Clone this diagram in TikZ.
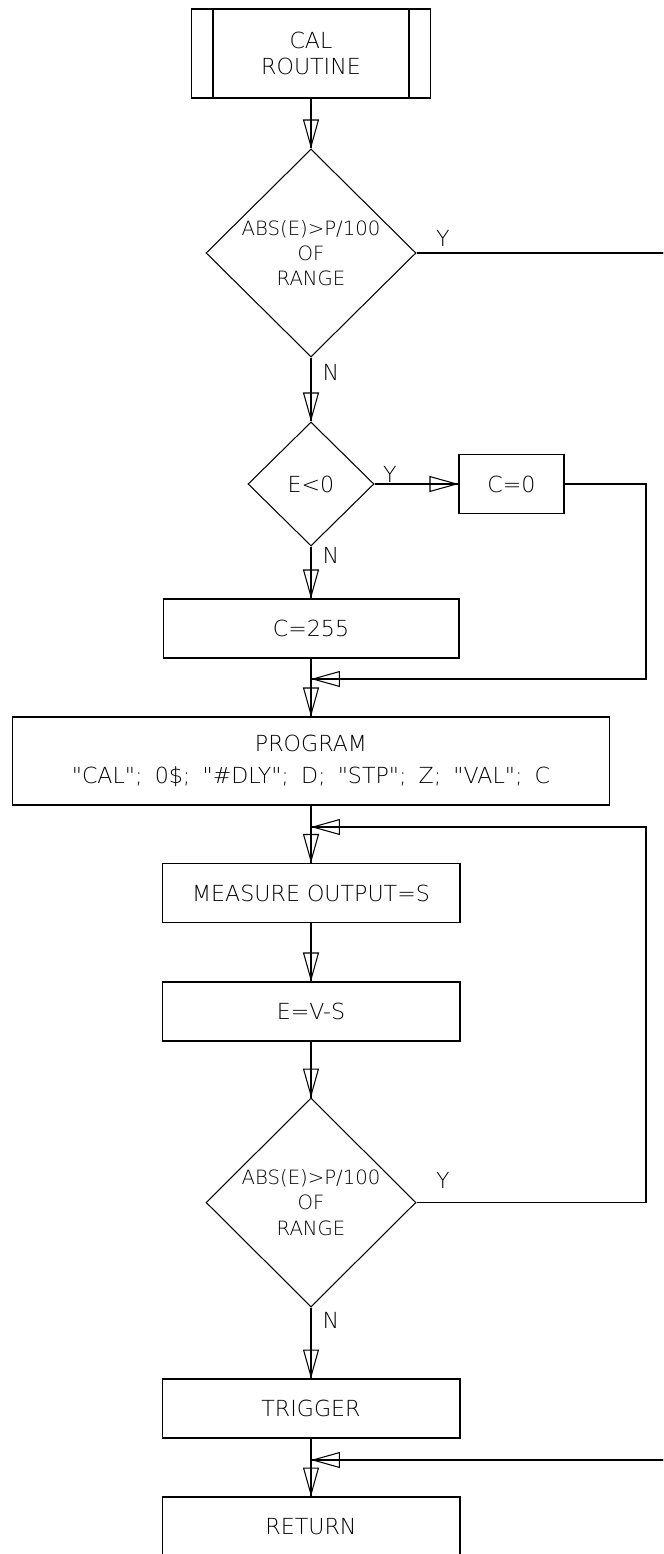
\documentclass[tikz,border=0pt]{standalone}
\usepackage{fontspec}
\newfontfamily\cadfont{DejaVu Sans}[UprightFont={* ExtraLight}]
\usepackage{tikz}
\usetikzlibrary{arrows.meta,shapes.geometric,calc}

\tikzset{
  flowbox/.style={draw, rectangle, inner sep=0pt, minimum width=5.96cm, minimum height=1.18cm},
  testbox/.style={draw, diamond, inner sep=-3pt, align=center, font=\cadfont\fontsize{11.2}{14.4}\selectfont},
  flowarrow/.style={-{Triangle[open, length=0.58cm, width=0.32cm]}, postaction={draw, -}},
  tag/.style={inner sep=0pt}
}

\begin{document}
\begin{tikzpicture}[x=0.02cm, y=-0.02cm, line width=0.6pt,
    font=\cadfont\fontsize{12.6}{14.4}\selectfont]
    \useasboundingbox (0,0) rectangle (663,1554);
    \clip (0,0) rectangle (663,1554);

    % Entry box
    \node[draw, rectangle, inner sep=0pt, minimum width=4.78cm, minimum height=1.78cm, align=center]
        (cal) at (311,53.5) {CAL\\ROUTINE};
    \draw ($(cal.north west)+(22,0)$) -- ($(cal.south west)+(22,0)$);
    \draw ($(cal.north east)+(-22,0)$) -- ($(cal.south east)+(-22,0)$);

    % Decisions and steps
    \node[testbox, minimum width=4.2cm, minimum height=4.16cm] (test1) at (311,253) {ABS(E)>P/100\\OF\\RANGE};
    \node[testbox, minimum width=2.52cm, minimum height=2.48cm, font=\cadfont\fontsize{12.6}{14.4}\selectfont]
        (test2) at (311,484) {E<0};
    \node[flowbox, minimum width=2.1cm] (zero) at (511.5,484) {C=0};
    \node[flowbox, minimum width=5.92cm] (c255) at (311,628.5) {C=255};
    \node[flowbox, minimum width=11.96cm, minimum height=1.76cm, align=center] (prog) at (311,761)
        {PROGRAM\\[3.4pt]{\spaceskip=0.55em "CAL"; 0\$; "\#DLY"; D; "STP"; Z; "VAL"; C}};
    \node[flowbox] (meas) at (311,893) {MEASURE OUTPUT=S};
    \node[flowbox] (evs) at (311,1011.5) {E=V-S};
    \node[testbox, minimum width=4.2cm, minimum height=4.18cm] (test3) at (311,1202.5) {ABS(E)>P/100\\OF\\RANGE};
    \node[flowbox] (trig) at (311,1408.5) {TRIGGER};
    \node[flowbox] (ret) at (311,1526.5) {RETURN};

    % Junctions
    \coordinate (merge1) at (311,679);
    \coordinate (merge2) at (311,827);
    \coordinate (merge3) at (311,1460);

    % Y / N labels
    \node[tag] (yes1) at (443,238) {Y};
    \node[tag] (no1) at (331,372) {N};
    \node[tag] (yes2) at (390,474) {Y};
    \node[tag] (no2) at (331,555) {N};
    \node[tag] (yes3) at (443,1180) {Y};
    \node[tag] (no3) at (331,1320) {N};

    % Main flow
    \draw[flowarrow] (cal.south) -- (test1.north);
    \draw[flowarrow] (test1.south) -- (test2.north);
    \draw[flowarrow] (test2.east) -- (zero.west);
    \draw[flowarrow] (test2.south) -- (c255.north);
    \draw[flowarrow] (c255.south) -- (prog.north);
    \draw[flowarrow] (prog.south) -- (meas.north);
    \draw[flowarrow] (meas.south) -- (evs.north);
    \draw[flowarrow] (evs.south) -- (test3.north);
    \draw[flowarrow] (test3.south) -- (trig.north);
    \draw[flowarrow] (trig.south) -- (ret.north);

    % Return paths
    \draw[flowarrow] (zero.east) -| (646,679) -- (merge1);
    \draw[flowarrow] (test3.east) -| (646,827) -- (merge2);
    \draw[flowarrow] (test1.east) -| (700,1460) -- (merge3);
\end{tikzpicture}
\end{document}
